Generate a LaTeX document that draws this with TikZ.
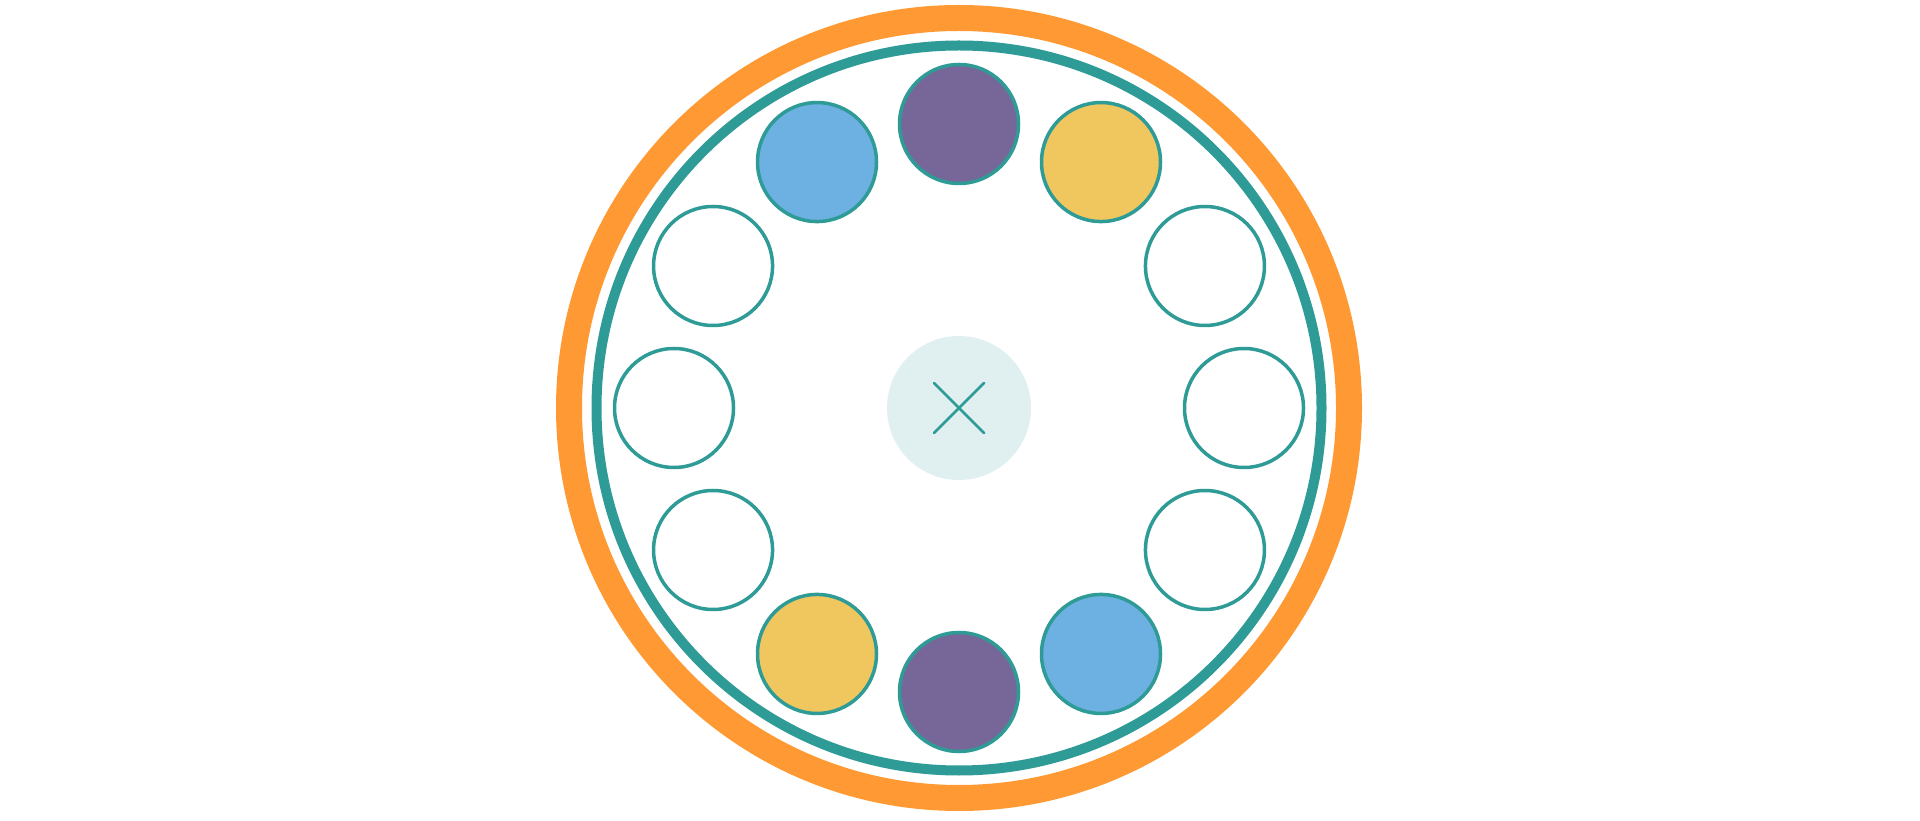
\documentclass[tikz,border=0pt]{standalone}
\usetikzlibrary{calc}
\definecolor{ringorange}{HTML}{FF9933}
\definecolor{teal}{HTML}{2E9B97}
\definecolor{cpurple}{HTML}{776799}
\definecolor{cblue}{HTML}{6CB1E2}
\definecolor{cyellow}{HTML}{EFC75E}
\definecolor{clight}{HTML}{E0F0F0}
\tikzset{
  ring/.style={circle, draw, inner sep=0pt, outer sep=0pt},
  ball/.style={circle, draw=teal, line width=3.5pt, inner sep=0pt, minimum size=119pt, fill=white},
  hub/.style={circle, fill=clight, inner sep=0pt, minimum size=144pt},
  cross/.style={draw=teal, line width=2.8pt, line cap=round}
}
\begin{document}
\begin{tikzpicture}[x=1pt,y=1pt]
\useasboundingbox (0,0) rectangle (1920,820);
\fill[white] (0,0) rectangle (1920,820);
\coordinate (C) at (959,412);
\node[ring, draw=ringorange, line width=26pt, minimum size=780pt] (outer) at (C) {};
\node[ring, draw=teal, line width=10pt, minimum size=725pt] (inner) at (C) {};
\node[ball, fill=cpurple] (b90) at ([shift={(90:284)}]C) {};
\node[ball, fill=cblue] (b120) at ([shift={(120:284)}]C) {};
\node[ball, fill=cyellow] (b60) at ([shift={(60:284)}]C) {};
\node[ball] (b150) at ([shift={(150:284)}]C) {};
\node[ball] (b30) at ([shift={(30:284)}]C) {};
\node[ball] (b180) at ([shift={(180:285)}]C) {};
\node[ball] (b0) at ([shift={(0:285)}]C) {};
\node[ball] (b210) at ([shift={(210:284)}]C) {};
\node[ball] (b330) at ([shift={(330:284)}]C) {};
\node[ball, fill=cyellow] (b240) at ([shift={(240:284)}]C) {};
\node[ball, fill=cpurple] (b270) at ([shift={(270:284)}]C) {};
\node[ball, fill=cblue] (b300) at ([shift={(300:284)}]C) {};
\node[hub] (hub) at (C) {};
\coordinate (x1) at ([shift={(-25,25)}]C);
\coordinate (x2) at ([shift={(25,-25)}]C);
\coordinate (x3) at ([shift={(-25,-25)}]C);
\coordinate (x4) at ([shift={(25,25)}]C);
\draw[cross] (x1) -- (x2);
\draw[cross] (x3) -- (x4);
\end{tikzpicture}
\end{document}
